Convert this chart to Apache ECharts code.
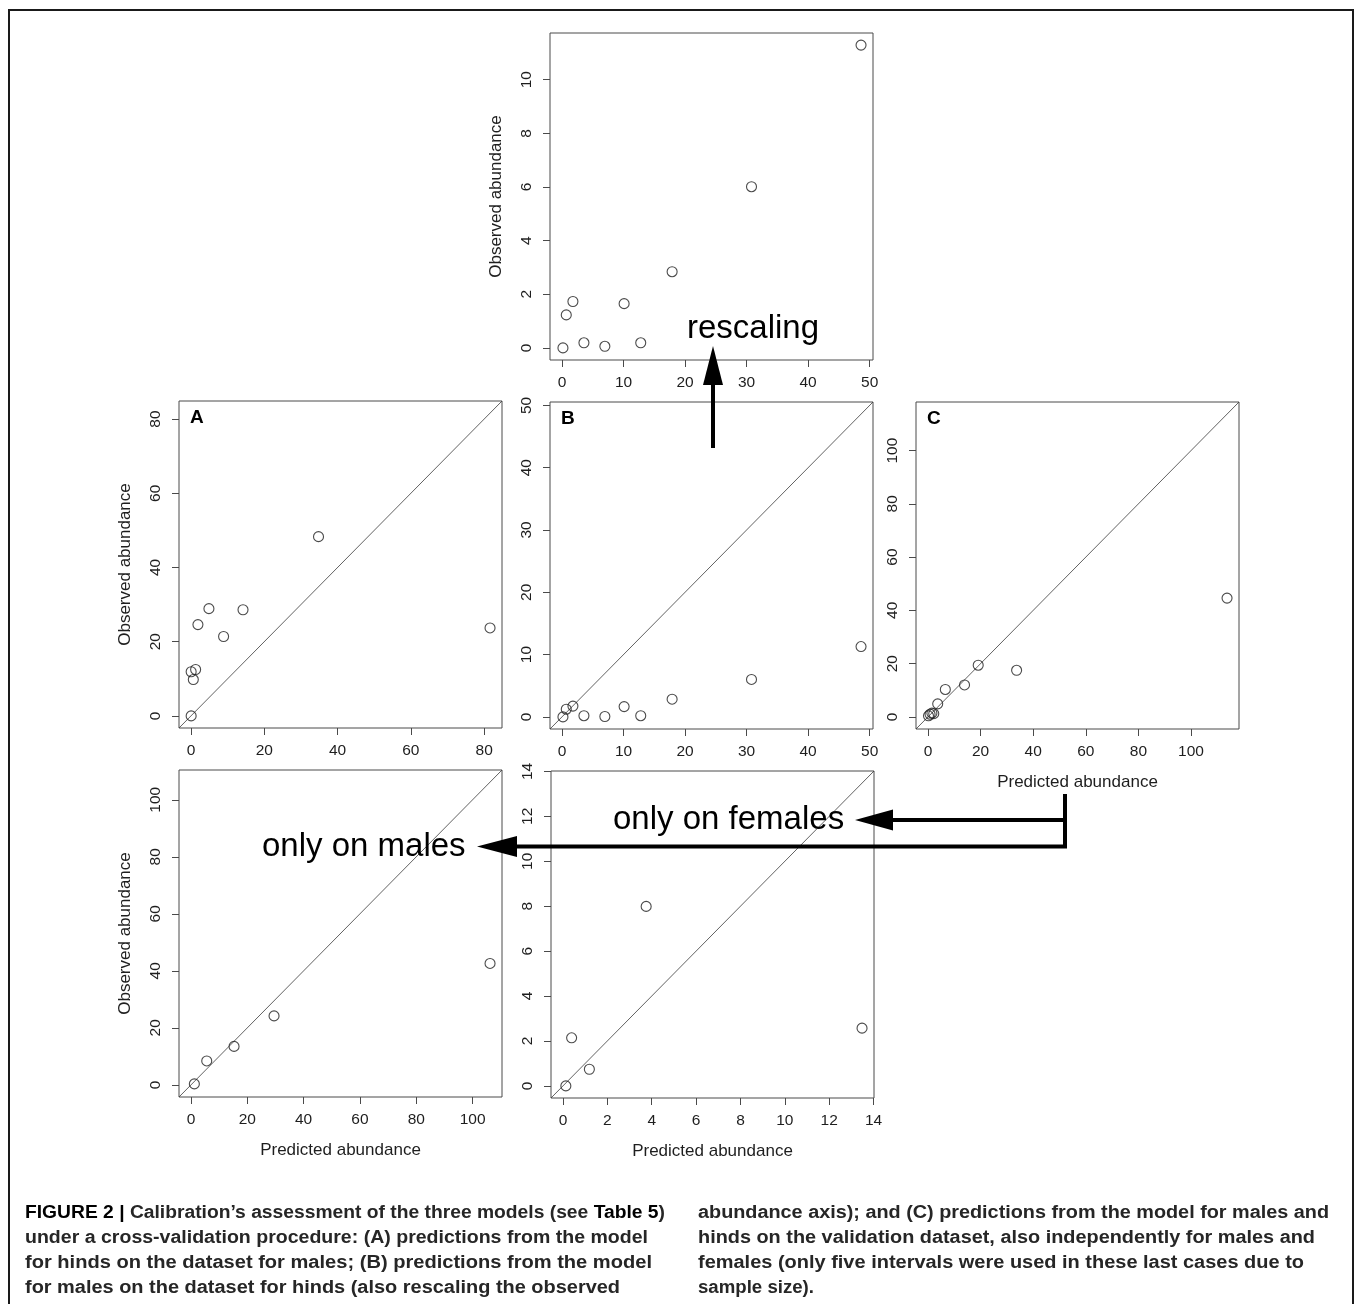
<!DOCTYPE html>
<html>
<head>
<meta charset="utf-8">
<script src="https://cdn.jsdelivr.net/npm/echarts@6.0.0/dist/echarts.min.js"></script>
<style>
html,body{margin:0;padding:0;background:#fff;}
#chart{position:absolute;left:0;top:0;width:1355px;height:1304px;}
#frame{position:absolute;left:8px;top:9px;width:1346px;height:1400px;border:2px solid #1a1a1a;box-sizing:border-box;pointer-events:none;}
.cl{position:absolute;white-space:nowrap;font-family:"Liberation Sans Narrow","Liberation Sans",Arial,sans-serif;font-weight:bold;font-size:17.5px;line-height:20px;color:#262626;transform-origin:0 50%;}
.cl b{color:#000;}
</style>
</head>
<body>
<div id="chart"></div>
<div id="frame"></div>
<div id="caption"></div>
<script>
// ---------- data ----------
// Panel "rescaling" (top) and B: model for males on the dataset for hinds
const predB = [0.16, 0.7, 1.78, 3.57, 6.97, 10.1, 12.8, 17.9, 30.8, 48.6];
const obsB  = [0, 1.23, 1.73, 0.19, 0.06, 1.65, 0.19, 2.84, 6.01, 11.29];
// Panel A: model for hinds on the dataset for males
const predA = [0.05, 0.05, 0.64, 1.27, 1.9, 4.9, 8.9, 14.2, 34.8, 81.6];
const obsA  = [0, 11.9, 9.8, 12.5, 24.6, 28.9, 21.4, 28.6, 48.3, 23.7];
// Panel C: validation dataset
const predC = [0.2, 0.8, 1.5, 2.2, 3.7, 6.6, 13.9, 19.1, 33.7, 113.7];
const obsC  = [0.4, 1.0, 1.4, 1.2, 4.9, 10.3, 12.0, 19.4, 17.5, 44.6];
// Only on males
const predM = [1.2, 5.6, 15.3, 29.5, 106.2];
const obsM  = [0.35, 8.4, 13.5, 24.2, 42.6];
// Only on females
const predF = [0.13, 0.39, 1.19, 3.75, 13.48];
const obsF  = [0, 2.14, 0.74, 7.99, 2.57];

// tick labels
const ticksTopX = [0, 10, 20, 30, 40, 50];
const ticksTopY = [0, 2, 4, 6, 8, 10];
const ticksA = [0, 20, 40, 60, 80];
const ticksB = [0, 10, 20, 30, 40, 50];
const ticksC = [0, 20, 40, 60, 80, 100];
const ticksM = [0, 20, 40, 60, 80, 100];
const ticksF = [0, 2, 4, 6, 8, 10, 12, 14];

const yTitle = 'Observed abundance';
const xTitle = 'Predicted abundance';

const captionLines = [
  {x: 25,  y: 1212, w: 640, html: '<b>FIGURE 2 |</b> Calibration’s assessment of the three models (see <b>Table 5</b>)'},
  {x: 25,  y: 1237, w: 623, html: 'under a cross-validation procedure: (A) predictions from the model'},
  {x: 25,  y: 1262, w: 627, html: 'for hinds on the dataset for males; (B) predictions from the model'},
  {x: 25,  y: 1287, w: 595, html: 'for males on the dataset for hinds (also rescaling the observed'},
  {x: 698, y: 1212, w: 631, html: 'abundance axis); and (C) predictions from the model for males and'},
  {x: 698, y: 1237, w: 617, html: 'hinds on the validation dataset, also independently for males and'},
  {x: 698, y: 1262, w: 606, html: 'females (only five intervals were used in these last cases due to'},
  {x: 698, y: 1287, w: 116, html: 'sample size).'}
];

// ---------- layout ----------
const FONT = '"Liberation Sans", Arial, Helvetica, sans-serif';
const GW = 323, GH = 327;
const maxOf = a => Math.max.apply(null, a);
const expand = (lim) => { const d = lim[1] - lim[0]; return [lim[0] - 0.04 * d, lim[1] + 0.04 * d]; };

const panels = [
  {pos: [550, 33],  x: predB, y: obsB, xlim: [0, maxOf(predB)], ylim: [0, maxOf(obsB)], xt: ticksTopX, yt: ticksTopY, diag: false, yName: yTitle, xName: '', letter: ''},
  {pos: [179, 401], x: predA, y: obsA, xlim: [0, maxOf(predA)], ylim: [0, maxOf(predA)], xt: ticksA, yt: ticksA, diag: true, yName: yTitle, xName: '', letter: 'A'},
  {pos: [550, 402], x: predB, y: obsB, xlim: [0, maxOf(predB)], ylim: [0, maxOf(predB)], xt: ticksB, yt: ticksB, diag: true, yName: '', xName: '', letter: 'B'},
  {pos: [916, 402], x: predC, y: obsC, xlim: [0, maxOf(predC)], ylim: [0, maxOf(predC)], xt: ticksC, yt: ticksC, diag: true, yName: '', xName: xTitle, letter: 'C'},
  {pos: [179, 770], x: predM, y: obsM, xlim: [0, maxOf(predM)], ylim: [0, maxOf(predM)], xt: ticksM, yt: ticksM, diag: true, yName: yTitle, xName: xTitle, letter: ''},
  {pos: [551, 771], x: predF, y: obsF, xlim: [0, maxOf(predF)], ylim: [0, maxOf(predF)], xt: ticksF, yt: ticksF, diag: true, yName: '', xName: xTitle, letter: ''}
];

const axisCommon = (ticks) => ({
  type: 'value',
  axisLine: {show: false, onZero: false},
  splitLine: {show: false},
  axisTick: {show: true, inside: false, length: 7, customValues: ticks, lineStyle: {color: '#4a4a4a', width: 1}},
  axisLabel: {customValues: ticks, fontSize: 15.5, margin: 15, color: '#1e1e1e', fontFamily: FONT},
  nameLocation: 'middle',
  nameGap: 45,
  nameTextStyle: {fontSize: 17, color: '#1e1e1e', fontFamily: FONT}
});

const grids = [], xAxes = [], yAxes = [], series = [], graphics = [];
panels.forEach((p, i) => {
  const xe = expand(p.xlim), ye = expand(p.ylim);
  grids.push({left: p.pos[0], top: p.pos[1], width: GW, height: GH, show: true,
    borderColor: '#4a4a4a', borderWidth: 1, backgroundColor: 'transparent',
    containLabel: false, outerBoundsMode: 'none'});
  xAxes.push(Object.assign(axisCommon(p.xt), {gridIndex: i, min: xe[0], max: xe[1], name: p.xName, position: 'bottom'}));
  const ya = Object.assign(axisCommon(p.yt), {gridIndex: i, min: ye[0], max: ye[1], name: p.yName, nameRotate: 90, position: 'left'});
  ya.axisLabel = Object.assign({}, ya.axisLabel, {rotate: 90});
  yAxes.push(ya);
  if (p.diag) {
    series.push({type: 'line', xAxisIndex: i, yAxisIndex: i, data: [[xe[0], ye[0]], [xe[1], ye[1]]],
      symbol: 'none', silent: true, lineStyle: {color: '#3a3a3a', width: 0.8}, z: 2});
  }
  series.push({type: 'scatter', xAxisIndex: i, yAxisIndex: i,
    data: p.x.map((v, k) => [v, p.y[k]]),
    symbol: 'circle', symbolSize: 10, silent: true,
    itemStyle: {color: 'rgba(255,255,255,0)', borderColor: '#1e1e1e', borderWidth: 1.1}, z: 3});
  if (p.letter) {
    graphics.push({type: 'text', x: p.pos[0] + 11, y: p.pos[1] + 7, z: 10,
      style: {text: p.letter, fontSize: 19, fontWeight: 'bold', fontFamily: FONT, fill: '#000', verticalAlign: 'top', align: 'left'}});
  }
});

// annotation arrows and labels
const ARW = '#000';
graphics.push(
  {type: 'line', z: 20, shape: {x1: 713, y1: 448, x2: 713, y2: 380}, style: {stroke: ARW, lineWidth: 4}},
  {type: 'polygon', z: 20, shape: {points: [[713, 346], [703, 385], [723, 385]]}, style: {fill: ARW}},
  {type: 'text', z: 20, x: 687, y: 329, style: {text: 'rescaling', fontSize: 33, fontFamily: FONT, fill: '#000', verticalAlign: 'middle', align: 'left'}},

  {type: 'line', z: 20, shape: {x1: 1065, y1: 794, x2: 1065, y2: 848}, style: {stroke: ARW, lineWidth: 4}},
  {type: 'line', z: 20, shape: {x1: 1067, y1: 820, x2: 888, y2: 820}, style: {stroke: ARW, lineWidth: 4}},
  {type: 'polygon', z: 20, shape: {points: [[855, 820], [893, 809.5], [893, 830.5]]}, style: {fill: ARW}},
  {type: 'text', z: 20, x: 613, y: 820, style: {text: 'only on females', fontSize: 33, fontFamily: FONT, fill: '#000', verticalAlign: 'middle', align: 'left'}},

  {type: 'line', z: 20, shape: {x1: 1067, y1: 846.5, x2: 512, y2: 846.5}, style: {stroke: ARW, lineWidth: 4}},
  {type: 'polygon', z: 20, shape: {points: [[477, 846.5], [517, 836], [517, 857]]}, style: {fill: ARW}},
  {type: 'text', z: 20, x: 262, y: 847, style: {text: 'only on males', fontSize: 33, fontFamily: FONT, fill: '#000', verticalAlign: 'middle', align: 'left'}}
);

const chart = echarts.init(document.getElementById('chart'), null, {renderer: 'canvas'});
chart.setOption({
  animation: false,
  backgroundColor: '#fff',
  grid: grids,
  xAxis: xAxes,
  yAxis: yAxes,
  series: series,
  graphic: {elements: graphics}
});

// ---------- caption ----------
const cap = document.getElementById('caption');
captionLines.forEach(l => {
  const d = document.createElement('div');
  d.className = 'cl';
  d.innerHTML = l.html;
  d.style.left = l.x + 'px';
  d.style.top = (l.y - 10) + 'px';
  cap.appendChild(d);
  const w = d.getBoundingClientRect().width;
  if (w > 0) d.style.transform = 'scaleX(' + (l.w / w) + ')';
});
</script>
</body>
</html>
